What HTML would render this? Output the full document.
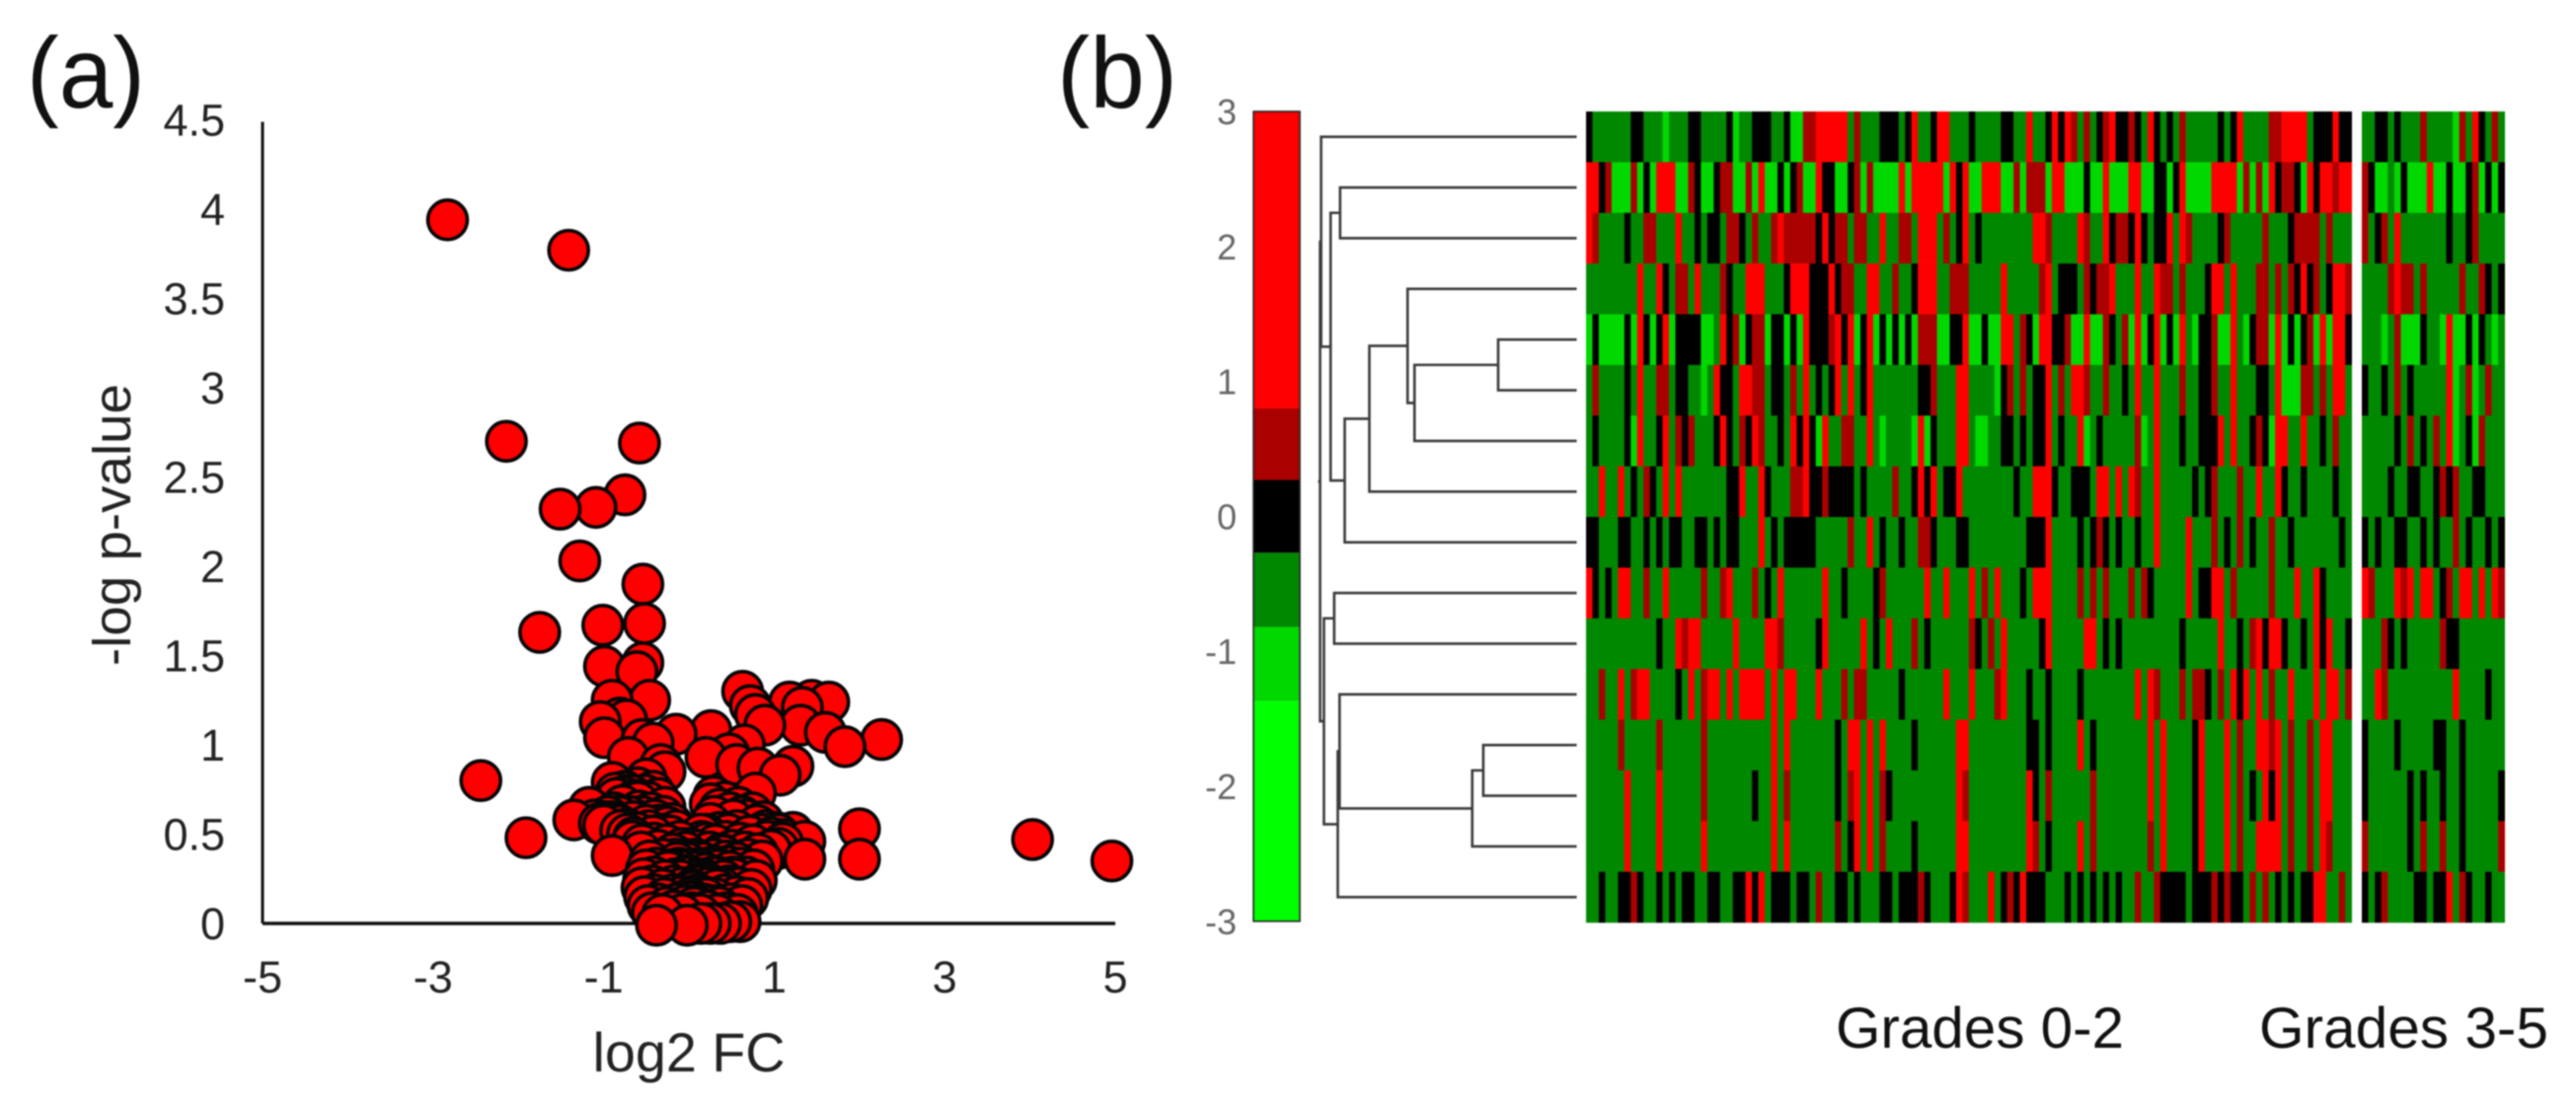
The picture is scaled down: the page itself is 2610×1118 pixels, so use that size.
<!DOCTYPE html>
<html lang="en">
<head>
<meta charset="utf-8">
<title>Volcano plot and clustered heatmap</title>
<style>
html,body{margin:0;padding:0;background:#fff;width:2610px;height:1118px;overflow:hidden}
svg{display:block;filter:blur(0.7px)}
text{font-family:"Liberation Sans",Arial,sans-serif}
</style>
</head>
<body>
<svg id="figure" xmlns="http://www.w3.org/2000/svg" width="2610" height="1118" viewBox="0 0 2610 1118">
<rect x="0" y="0" width="2610" height="1118" fill="#fff"/>
<text x="27" y="109" font-size="102" fill="#111" textLength="120" lengthAdjust="spacingAndGlyphs">(a)</text>
<text x="1071" y="109" font-size="102" fill="#111" textLength="122" lengthAdjust="spacingAndGlyphs">(b)</text>
<text x="698" y="1086" font-size="56" fill="#222" text-anchor="middle" textLength="195" lengthAdjust="spacingAndGlyphs">log2 FC</text>
<text transform="translate(132 532) rotate(-90)" font-size="54" fill="#222" text-anchor="middle" textLength="286" lengthAdjust="spacingAndGlyphs">-log p-value</text>
<text x="1860" y="1062" font-size="58" fill="#111" textLength="292" lengthAdjust="spacingAndGlyphs">Grades 0-2</text>
<text x="2289" y="1062" font-size="58" fill="#111" textLength="293" lengthAdjust="spacingAndGlyphs">Grades 3-5</text>
<g id="scatter"></g>
<g id="colorbar"></g>
<g id="dendro"></g>
<g id="heat"></g>
</svg>
<script>
// ---------- volcano plot data ----------
const xTickValues = [-5,-3,-1,1,3,5];
const yTickValues = [0,0.5,1,1.5,2,2.5,3,3.5,4,4.5];
const logFC = [
-2.83,-1.41,-2.14,-0.58,-0.75,-1.51,-1.09,-1.28,-0.54,-0.52,-1.75,-1.01,-0.54,-0.99,-0.61,
0.63,0.72,0.78,1.64,1.44,1.18,1.33,-0.90,-0.46,1.31,0.89,-0.81,-0.73,-1.04,0.26,-0.15,1.60,-0.99,-0.55,0.65,-0.42,2.26,1.83,
0.47,-0.71,0.20,0.56,-0.33,1.22,0.81,-0.28,1.07,-0.50,-2.44,-0.90,-0.86,0.78,-0.77,0.29,-0.64,0.25,-1.17,-0.28,-0.59,-1.35,
0.87,-0.99,-0.90,-0.81,2.00,-0.73,1.22,-0.42,-1.91,4.03,1.36,-0.55,1.05,-0.90,2.00,1.36,4.96,
-0.62,-0.47,-0.31,-0.22,0.14,0.36,0.46,0.56,0.71,0.84,1.02,
-0.66,-0.41,-0.26,-0.11,0.21,0.31,0.43,0.60,0.75,0.92,1.10,
-0.56,-0.36,-0.19,-0.04,0.09,0.24,0.38,0.51,0.66,0.81,0.96,
-0.46,-0.31,-0.14,-0.06,0.05,0.16,0.29,0.44,0.56,0.69,0.86,
-0.50,-0.38,-0.24,-0.12,0.01,0.11,0.21,0.34,0.48,0.61,0.76,
-0.53,-0.41,-0.28,-0.16,-0.04,0.06,0.17,0.28,0.41,0.53,0.67,0.79,
-0.55,-0.43,-0.31,-0.18,-0.07,0.03,0.13,0.23,0.33,0.46,0.59,0.73,
-0.52,-0.40,-0.29,-0.19,-0.09,0.01,0.09,0.18,0.31,0.42,0.56,0.69,
-0.48,-0.37,-0.26,-0.14,-0.04,0.06,0.16,0.26,0.36,0.49,0.62,
-0.43,-0.31,-0.18,-0.08,0.03,0.13,0.22,0.33,0.44,0.57,
0.60,0.49,0.37,0.25,0.14,-0.02,-0.38,
-1.10,-1.05,-1.00,-0.95,-0.88,-0.82,-0.78,-0.70,-0.65,-0.60,-0.55,-0.50,-0.45,-0.40,-0.35,-0.30,-0.25,-0.20,-0.15,
-0.85,-0.75,-0.68,-0.60,-0.52,-0.48,-0.42,-0.36,-0.80,-0.72,-0.65,
0.30,0.36,0.42,0.48,0.52,0.58,0.62,0.68,0.74,0.80,0.90,0.96,1.05,1.12,0.25,0.20,0.15,
0.02,0.08,0.12,-0.02,0.15,0.20,0.24,0.06,0.10,-0.10,-0.12,-0.16,-0.08,-0.22,0.30,0.34,0.38,0.02,0.08,0.20,0.28,-0.02,0.40,0.46,0.52
];
const negLogP = [
3.94,3.77,2.70,2.69,2.40,2.32,2.33,2.03,1.90,1.68,1.63,1.67,1.46,1.44,1.41,
1.30,1.22,1.17,1.24,1.25,1.24,1.21,1.25,1.25,1.11,1.11,1.15,1.14,1.13,1.08,1.06,1.07,1.04,1.03,1.00,1.01,1.03,0.99,
0.95,0.93,0.93,0.89,0.89,0.88,0.87,0.85,0.83,0.81,0.80,0.79,0.73,0.73,0.71,0.71,0.69,0.67,0.65,0.65,0.63,0.58,
0.57,0.57,0.57,0.55,0.53,0.53,0.51,0.49,0.48,0.47,0.46,0.44,0.42,0.38,0.36,0.36,0.35,
0.51,0.52,0.50,0.49,0.50,0.51,0.50,0.52,0.49,0.50,0.51,
0.46,0.45,0.44,0.46,0.45,0.44,0.46,0.45,0.44,0.46,0.45,
0.40,0.41,0.39,0.40,0.41,0.40,0.39,0.41,0.40,0.39,0.41,
0.35,0.36,0.34,0.36,0.35,0.34,0.36,0.35,0.34,0.36,0.35,
0.30,0.31,0.29,0.31,0.30,0.29,0.31,0.30,0.29,0.31,0.30,
0.25,0.26,0.24,0.25,0.26,0.24,0.25,0.26,0.24,0.25,0.26,0.24,
0.20,0.21,0.19,0.21,0.20,0.19,0.21,0.20,0.19,0.21,0.20,0.19,
0.15,0.16,0.14,0.16,0.15,0.14,0.16,0.15,0.14,0.16,0.15,0.14,
0.10,0.11,0.09,0.11,0.10,0.09,0.11,0.10,0.09,0.11,0.10,
0.06,0.05,0.07,0.05,0.06,0.05,0.07,0.05,0.06,0.05,
0.01,0.01,0.00,0.00,0.00,-0.01,-0.01,
0.58,0.56,0.55,0.60,0.62,0.60,0.66,0.60,0.57,0.68,0.60,0.55,0.62,0.58,0.55,0.60,0.54,0.56,0.52,
0.70,0.74,0.72,0.76,0.72,0.68,0.74,0.70,0.52,0.50,0.48,
0.60,0.64,0.68,0.62,0.58,0.65,0.60,0.58,0.62,0.55,0.52,0.48,0.50,0.47,0.56,0.50,0.46,
0.42,0.36,0.31,0.27,0.24,0.28,0.22,0.18,0.22,0.24,0.30,0.36,0.42,0.30,0.32,0.26,0.20,0.12,0.10,0.14,0.10,0.34,0.38,0.32,0.26
];
// ---------- colour scale data ----------
const colorTickValues = [3,2,1,0,-1,-2,-3];
const colorBandTops = [3,0.8,0.27,-0.27,-0.82,-1.37];
const colorBandFills = ['#ff0000','#aa0000','#000000','#008800','#00d800','#00ff00'];
// ---------- dendrogram data (leaves 0-15, new nodes numbered from 16) ----------
const mergeLeft  = [4,16,3,18,19,1,21,0,12,24,11,26,9,28,23];
const mergeRight = [5,6,17,7,8,2,20,22,13,14,25,15,10,27,29];
const mergeHeight = [0.306,0.632,0.659,0.808,0.904,0.922,0.959,0.996,0.364,0.407,0.924,0.931,0.945,0.985,1.0];
// ---------- heatmap data: each row lists value,count pairs across samples ----------
const R=2,D=0.5,K=0,G=-0.5,L=-1;
const heatGrade02Runs = [
[K,1,G,6,K,2,G,3,L,1,G,3,K,2,G,4,K,1,L,1,G,2,K,3,G,2,K,1,L,2,D,2,R,5,G,1,D,1,G,3,K,3,G,1,K,1,R,1,G,2,K,1,R,2,G,3,K,1,G,4,K,2,G,2,R,1,G,2,K,1,R,1,K,1,R,1,D,1,G,1,D,1,G,1,K,1,D,1,R,1,K,2,D,1,K,1,G,1,R,1,K,1,G,1,K,1,G,1,D,1,G,5,K,1,G,1,K,1,R,1,G,4,D,2,R,4,G,1,K,3,R,1,K,2],
[R,2,K,1,D,1,L,3,D,1,L,1,K,1,L,1,R,3,L,2,D,1,K,1,L,2,K,1,D,2,L,2,D,1,L,1,R,1,L,2,K,1,L,1,K,1,D,1,L,2,R,1,K,2,L,2,K,1,D,1,L,1,D,1,L,4,R,1,L,1,R,5,L,1,R,1,K,1,R,1,L,2,R,3,L,2,D,1,L,1,D,1,D,2,L,1,R,2,L,3,K,1,L,2,R,1,L,3,R,2,L,2,K,2,L,1,K,1,R,1,L,4,R,4,L,1,D,1,L,1,D,1,L,1,R,1,K,1,D,2,K,1,L,1,R,1,K,1,R,2,D,1,R,2],
[R,1,D,1,G,4,K,1,G,2,D,2,G,3,R,1,G,2,K,1,G,1,K,2,G,1,D,2,K,1,G,1,D,1,G,2,D,1,R,1,D,5,K,1,R,1,K,1,D,2,G,1,D,2,G,2,R,1,G,2,D,2,G,1,R,3,G,1,D,1,G,1,K,1,R,1,G,1,K,1,G,8,R,2,D,1,G,4,R,1,D,1,G,2,R,1,K,1,D,2,K,1,R,1,K,1,G,1,K,2,R,1,G,1,R,1,D,1,G,4,K,1,D,1,G,5,D,1,G,3,K,1,D,4,G,1,D,1,G,3],
[G,8,R,1,G,2,R,1,K,1,G,1,D,2,G,1,R,1,G,3,D,1,K,1,G,2,R,3,G,3,K,1,R,3,K,3,R,1,K,1,D,2,G,2,R,2,G,2,D,1,G,2,K,1,R,3,G,2,D,3,G,5,R,1,G,4,G,1,D,1,R,1,G,1,K,3,G,1,D,1,K,1,D,2,R,1,G,3,R,1,G,2,R,1,D,2,G,1,D,1,G,3,K,1,R,2,G,1,R,1,G,3,D,2,G,1,D,1,G,1,D,1,K,1,R,1,K,1,D,1,G,1,K,1,R,2,D,1],
[L,1,K,1,L,4,K,1,L,1,R,1,K,1,L,1,K,1,R,1,L,1,K,4,L,2,G,1,R,1,K,1,D,1,L,1,K,1,D,2,L,1,K,2,L,1,K,1,L,1,R,1,K,3,D,1,R,1,K,1,R,1,L,1,K,1,R,1,L,1,K,1,L,1,K,1,L,1,K,1,L,1,D,3,L,2,K,2,R,1,L,2,K,1,L,2,R,2,G,1,D,1,K,1,L,1,R,2,K,2,D,1,L,2,R,1,L,2,D,1,K,1,G,1,D,1,L,1,R,1,L,1,K,1,R,1,L,1,K,1,L,1,R,1,G,1,L,1,K,2,D,1,L,2,R,1,G,1,L,1,K,1,D,2,L,1,R,1,L,1,K,1,L,1,K,1,D,1,L,1,R,1,L,1,R,2,K,1],
[G,1,D,1,G,4,K,1,G,1,R,1,G,2,D,2,G,1,K,2,G,2,L,1,G,1,R,1,K,2,G,1,R,2,D,2,G,1,K,2,G,1,D,1,G,1,R,1,G,1,K,1,G,1,K,1,R,1,G,1,R,1,G,1,K,1,R,1,G,7,K,2,D,1,G,3,R,2,G,4,L,1,K,1,D,1,G,1,D,1,G,1,K,2,R,1,G,1,D,1,G,1,R,2,D,1,G,2,D,1,G,2,K,1,G,1,R,1,G,2,R,1,G,3,D,1,G,2,K,2,D,1,G,2,R,1,G,3,K,2,G,1,R,1,L,3,D,2,G,1,D,1,G,1,R,2,G,1],
[G,1,K,1,G,4,K,1,L,1,R,1,G,2,K,1,R,1,G,1,D,1,K,1,D,1,G,3,K,1,R,1,K,1,G,1,D,1,K,1,R,1,D,1,G,2,K,1,G,1,R,1,K,1,R,1,K,1,L,1,R,1,G,2,D,2,G,2,R,1,G,1,L,1,G,4,L,1,R,1,L,1,K,1,G,3,R,2,G,1,L,2,G,2,K,2,G,1,K,1,G,1,K,2,R,1,G,1,K,1,G,2,R,1,L,1,G,1,K,1,G,5,D,1,L,1,G,1,R,1,G,3,K,1,G,2,K,3,R,1,G,1,R,1,G,2,K,1,D,1,K,1,L,1,R,2,G,2,R,1,G,2,K,1,G,1,D,1,G,2],
[G,2,R,1,G,2,R,1,G,1,K,1,G,1,D,1,K,1,G,1,R,1,G,1,R,1,G,7,K,2,R,1,G,2,R,1,K,1,G,3,D,2,R,1,K,2,D,1,K,4,G,1,K,1,G,4,D,1,G,2,K,1,R,1,K,1,R,1,G,1,K,2,R,1,G,8,K,1,G,2,R,3,K,1,G,2,K,3,G,1,R,2,G,1,R,1,G,1,R,1,D,1,G,2,R,1,G,5,K,1,G,1,K,1,D,1,G,3,D,1,G,2,R,1,G,2,R,1,K,1,G,2,K,1,G,4,K,1,G,2],
[K,2,G,3,K,2,G,2,K,1,G,1,K,1,G,1,K,2,G,2,K,2,G,1,K,1,G,1,K,2,G,3,R,1,G,1,K,1,G,1,K,5,G,5,D,1,G,2,R,1,G,1,K,1,G,2,K,1,G,2,D,2,K,1,G,3,K,2,G,9,K,1,K,2,R,1,G,4,K,1,G,1,K,1,D,1,K,1,G,1,K,1,G,2,K,1,G,2,R,1,G,4,R,1,G,3,D,1,G,1,K,1,G,1,D,1,G,1,K,1,G,2,D,1,G,2,K,1,G,7,K,1,G,1],
[R,1,K,1,G,1,K,1,G,1,R,2,G,2,D,1,G,2,R,1,G,5,D,1,G,2,D,1,R,1,G,3,D,1,G,1,K,1,G,1,R,1,G,6,R,1,G,2,K,1,G,4,K,1,D,1,G,6,R,1,G,2,R,1,G,3,R,1,G,1,D,1,G,1,R,1,G,3,K,1,G,1,R,3,G,4,D,1,G,1,D,1,G,1,D,1,G,3,D,1,G,1,D,1,K,1,G,5,R,1,G,1,K,2,R,2,G,1,D,1,G,5,D,1,G,3,R,1,G,2,R,1,K,1,G,4],
[G,11,K,1,G,2,R,1,D,1,R,2,G,5,R,1,G,4,R,2,D,1,G,5,K,1,R,1,G,5,R,1,G,1,K,1,G,1,R,1,G,3,D,1,G,1,K,1,G,6,D,1,K,1,G,1,D,1,G,1,R,1,G,4,G,1,K,1,R,1,G,5,R,2,G,1,K,1,G,1,K,1,G,9,K,1,G,5,R,1,G,2,K,1,G,1,D,1,R,1,K,1,R,2,K,1,G,2,K,1,G,1,R,1,K,1,R,1,G,2,K,1],
[G,2,D,1,G,2,R,1,G,1,D,1,R,2,G,4,K,1,G,1,R,1,G,1,D,1,R,2,G,1,R,1,G,1,R,4,G,1,R,1,G,1,R,2,G,3,R,1,G,3,D,1,G,1,D,2,G,5,K,1,G,6,R,1,G,3,R,1,G,3,D,1,R,1,G,3,K,1,G,2,K,1,G,4,K,1,G,8,R,1,G,1,R,1,D,1,G,3,D,1,G,1,D,2,K,1,G,1,D,1,G,1,R,1,K,1,R,1,G,1,R,1,G,1,D,1,G,2,R,1,G,3,R,1,G,1,R,2,G,1,D,1],
[G,5,D,1,G,5,D,1,G,6,D,1,G,10,R,1,G,1,R,1,G,7,K,1,G,1,R,2,G,1,R,1,G,1,R,1,G,4,K,1,G,6,R,2,G,9,K,1,K,1,G,1,K,1,G,4,R,1,G,1,K,1,G,8,R,1,G,1,R,1,G,4,K,1,R,1,G,3,R,1,G,1,D,1,G,2,R,2,D,1,R,1,G,1,D,1,G,2,D,1,G,1,R,2,G,3],
[G,6,R,1,G,4,R,1,G,6,D,1,G,7,K,1,G,2,R,1,G,1,D,1,G,7,K,1,G,1,D,1,R,1,G,1,R,1,G,1,D,1,K,1,G,10,R,1,D,1,G,9,R,1,K,1,G,1,D,1,G,6,D,1,G,8,R,1,G,1,R,1,G,4,K,1,R,1,G,3,R,1,G,1,D,1,G,1,K,1,G,1,R,1,K,1,R,1,G,1,D,1,G,2,D,1,G,1,R,2,G,3],
[G,6,R,1,G,4,R,1,G,6,R,1,G,10,R,1,G,1,R,1,G,7,D,1,G,1,K,1,R,1,G,1,R,1,G,1,D,1,G,4,K,1,G,6,R,2,G,9,R,1,D,1,G,1,K,1,G,4,R,1,G,1,D,1,G,8,D,1,G,1,R,1,G,4,K,1,R,1,G,3,R,1,G,1,D,1,G,2,R,4,G,1,D,1,G,2,D,1,G,1,R,1,D,1,G,3],
[G,2,K,1,G,2,K,2,D,1,K,1,G,2,K,1,G,1,K,1,G,1,K,2,G,2,K,2,G,2,K,2,R,1,K,1,R,1,G,1,K,3,G,1,K,2,G,1,D,1,G,2,K,2,G,1,K,1,G,3,K,2,G,1,K,3,D,1,K,1,G,3,K,1,R,1,D,1,G,3,R,1,G,1,K,1,D,1,K,1,R,1,K,1,K,2,G,3,K,1,G,1,K,1,G,1,K,1,G,1,K,1,G,1,K,1,G,2,D,1,G,2,D,1,K,4,G,1,K,3,D,1,K,1,D,1,K,2,G,1,D,1,G,1,D,1,G,1,K,1,G,1,K,1,G,1,K,2,R,2,G,2,D,1,G,1]
];
const heatGrade35Runs = [
[G,2,K,2,G,1,K,1,G,3,D,1,G,4,L,1,D,1,G,1,R,1,K,1,G,1,D,1,G,1],
[D,1,K,1,L,2,G,1,L,1,K,1,L,3,R,1,L,2,K,1,L,2,K,1,D,1,L,1,K,1,L,1,K,1],
[D,1,G,1,K,1,D,1,G,1,R,1,G,7,K,1,G,2,K,1,D,1,G,4],
[G,4,D,1,R,1,D,2,G,1,D,1,G,5,D,1,G,2,D,1,K,1,G,1,K,1],
[G,3,L,1,G,1,D,1,L,3,K,1,G,2,L,1,R,1,L,2,K,1,L,1,K,1,G,1,L,1,G,1],
[K,1,G,2,K,1,G,1,D,1,G,1,K,1,G,5,R,1,L,1,G,1,D,1,L,1,G,1,D,1,G,2],
[G,5,K,1,G,1,D,1,G,1,K,1,G,1,D,1,G,1,R,1,L,1,G,1,K,1,L,1,D,1,G,3],
[G,4,K,1,G,2,K,2,G,2,K,1,D,1,K,1,D,1,G,2,K,2,G,3],
[K,1,G,1,K,1,G,2,K,2,G,2,K,1,G,1,K,1,G,2,D,1,G,1,K,1,G,2,K,1,G,1,K,1],
[R,1,D,1,G,3,R,1,D,1,R,1,G,1,R,2,G,1,K,1,D,1,G,1,R,2,G,1,R,1,G,1,R,1,D,1],
[G,3,D,1,K,1,G,1,K,1,G,5,D,1,K,2,G,7],
[G,2,R,1,D,1,G,10,R,1,G,4,K,1,G,2],
[K,1,G,4,K,1,G,5,K,2,G,2,K,1,G,6],
[K,1,G,6,K,1,G,1,K,1,G,2,K,1,G,2,K,1,G,5,K,1],
[D,1,G,6,K,1,G,1,D,1,G,2,D,1,G,2,K,1,G,5,D,1],
[K,1,G,1,K,1,D,1,G,4,K,2,G,1,K,2,R,1,G,1,D,1,K,1,G,2,K,1,G,2]
];

// ---------- helpers ----------
const SVGNS = 'http://www.w3.org/2000/svg';
function make(tag, parent, attrs, text){
  const el = document.createElementNS(SVGNS, tag);
  for(const k in attrs){ el.setAttribute(k, attrs[k]); }
  if(text !== undefined){ el.textContent = text; }
  parent.appendChild(el);
  return el;
}
const scatterX = v => 698 + v * 86.4;
const scatterY = v => 936 - v * 181;
const colorY = v => 113 + (3 - v) * 136.8;
const colorOf = v => {
  for(let i = colorBandTops.length - 1; i >= 0; i--){
    if(v <= colorBandTops[i] && (i === colorBandTops.length - 1 || v > colorBandTops[i + 1])){ return colorBandFills[i]; }
  }
  return colorBandFills[v > 0 ? 0 : colorBandFills.length - 1];
};

// ---------- scatter ----------
const scatter = document.getElementById('scatter');
const yAxis = make('line', scatter, {x1:266, x2:266, y1:scatterY(yTickValues[yTickValues.length-1])+2, y2:scatterY(0), stroke:'#111', 'stroke-width':3});


const xAxis = make('line', scatter, {x1:scatterX(-5), x2:scatterX(5), y1:scatterY(0), y2:scatterY(0), stroke:'#111', 'stroke-width':3.5});


xTickValues.forEach(v => {
  const t = make('text', scatter, {x:scatterX(v), y:1006, 'font-size':45, 'text-anchor':'middle', fill:'#222'}, String(v));
  
  
});
yTickValues.forEach(v => {
  const t = make('text', scatter, {x:228, y:scatterY(v) + 16, 'font-size':45, 'text-anchor':'end', fill:'#222'}, String(v));
  
  
});
const drawOrder = logFC.map((v, i) => i).sort((a, b) => (negLogP[b] - negLogP[a]) || (logFC[b] - logFC[a]));
drawOrder.forEach(i => {
  const c = make('circle', scatter, {cx:scatterX(logFC[i]), cy:scatterY(negLogP[i]), r:20, fill:'#ff0000', stroke:'#050505', 'stroke-width':3.6});
  
  
});

// ---------- colour bar ----------
const colorbar = document.getElementById('colorbar');
colorBandTops.forEach((top, i) => {
  const bottom = i + 1 < colorBandTops.length ? colorBandTops[i + 1] : -3;
  const r = make('rect', colorbar, {x:1270, y:colorY(top), width:47, height:colorY(bottom) - colorY(top), fill:colorBandFills[i]});
  
  
});
const frame = make('rect', colorbar, {x:1270, y:colorY(3), width:47, height:colorY(-3) - colorY(3), fill:'none', stroke:'#222', 'stroke-width':1.6});


colorTickValues.forEach(v => {
  const t = make('text', colorbar, {x:1253, y:colorY(v) + 13, 'font-size':36, 'text-anchor':'end', fill:'#666'}, String(v));
  
  
});

// ---------- dendrogram ----------
const dendro = document.getElementById('dendro');
const rowCount = heatGrade02Runs.length;
const heatTop = 113, heatBottom = 935;
const rowY = i => heatTop + (i + 0.5) * (heatBottom - heatTop) / rowCount;
const treeX = h => 1597.5 - h * 260;
const nodes = [];
for(let i = 0; i < rowCount; i++){ nodes.push({y:rowY(i), h:0}); }
mergeHeight.forEach((h, i) => {
  const a = nodes[mergeLeft[i]], b = nodes[mergeRight[i]];
  const p = make('path', dendro, {
    d:'M' + treeX(a.h) + ' ' + a.y + 'H' + treeX(h) + 'V' + b.y + 'H' + treeX(b.h),
    fill:'none', stroke:'#3a3a3a', 'stroke-width':2.6
  });
  
  
  nodes.push({y:(a.y + b.y) / 2, h:h});
});
const stem = make('path', dendro, {d:'M' + treeX(1) + ' ' + nodes[nodes.length-1].y + 'h-2', fill:'none', stroke:'#3a3a3a', 'stroke-width':2.6});



// ---------- heatmap ----------
const heat = document.getElementById('heat');
function drawBlock(runs, left, right, name){
  const count = runs[0].reduce((s, v, i) => i % 2 ? s + v : s, 0);
  const colX = c => left + c * (right - left) / count;
  const rowH = (heatBottom - heatTop) / rowCount;
  runs.forEach((row, r) => {
    let col = 0;
    for(let i = 0; i < row.length; i += 2){
      const rect = make('rect', heat, {
        x:colX(col), y:heatTop + r * rowH,
        width:colX(col + row[i + 1]) - colX(col) + 0.3, height:rowH + 0.3,
        fill:colorOf(row[i])
      });
      
      
      col += row[i + 1];
    }
  });
}
drawBlock(heatGrade02Runs, 1607, 2382.7, 'heat-cell-grades-0-2');
drawBlock(heatGrade35Runs, 2393, 2537.7, 'heat-cell-grades-3-5');
</script>
</body>
</html>
